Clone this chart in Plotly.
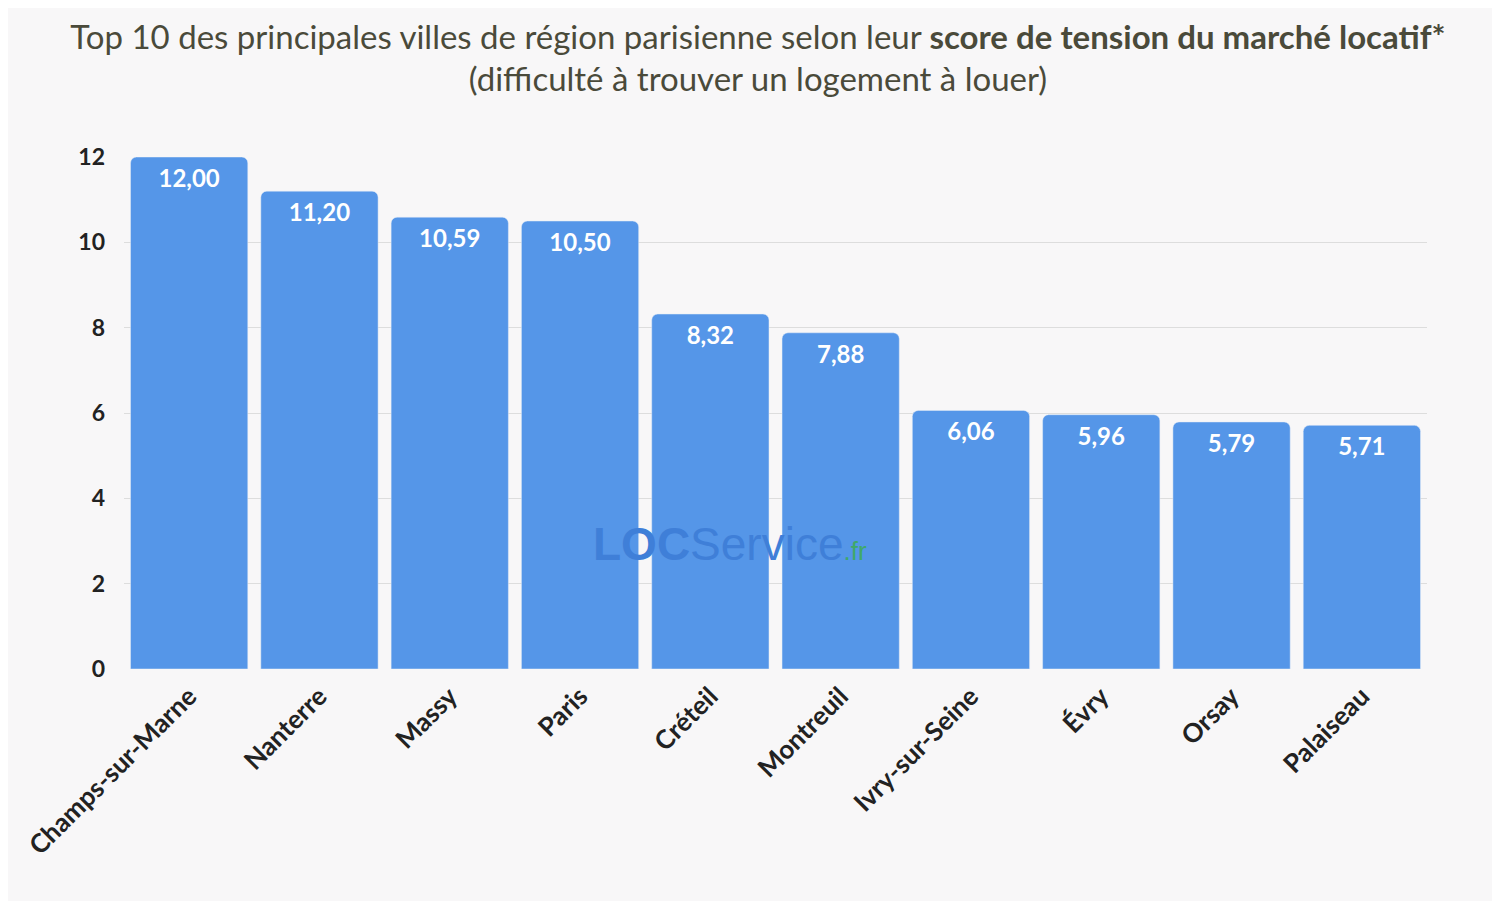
import plotly.graph_objects as go

villes = ["Champs-sur-Marne", "Nanterre", "Massy", "Paris", "Créteil", "Montreuil",
          "Ivry-sur-Seine", "Évry", "Orsay", "Palaiseau"]
scores = [12.00, 11.20, 10.59, 10.50, 8.32, 7.88, 6.06, 5.96, 5.79, 5.71]
labels = [f"{v:.2f}".replace(".", ",") for v in scores]

fig = go.Figure(go.Bar(
    x=villes, y=scores, text=["<b>" + t + "</b>" for t in labels],
    textposition="inside", insidetextanchor="end",
    textfont=dict(color="white", size=24), marker_color="#5596E8",
    textangle=0, cliponaxis=False,
))

fig.update_layout(
    width=1500, height=901,
    font=dict(family="Lato", color="#222", size=22),
    paper_bgcolor="#F8F7F8", plot_bgcolor="#F8F7F8",
    margin=dict(l=116, r=81, t=149, b=240),
    bargap=0.1, barcornerradius=6,
    title=dict(
        text="Top 10 des principales villes de région parisienne selon leur <b>score de tension du marché locatif*</b><br>(difficulté à trouver un logement à louer)",
        x=0.5, xanchor="center", y=0.955, yanchor="top",
        font=dict(size=33, color="#4A4A3A"),
    ),
    showlegend=False,
)
fig.update_yaxes(range=[0, 12], dtick=2, gridcolor="#DDDDDD", zeroline=False,
                 ticks="", ticklabelstandoff=18, tickfont=dict(size=23, weight="bold"))
fig.update_xaxes(tickangle=-45, tickfont=dict(size=26, weight="bold"), ticks="", ticklabelstandoff=6)

fig.add_annotation(
    x=0.465, y=0.19, xref="paper", yref="paper", showarrow=False,
    text="<b><span style='color:#3F7FD8'>LOC</span></b><span style='color:#3F7FD8'>Service</span><span style='color:#3FA86A;font-size:26px'>.fr</span>",
    font=dict(size=46, family="Liberation Sans Narrow, Liberation Sans"),
)

fig.write_html("out.html")
